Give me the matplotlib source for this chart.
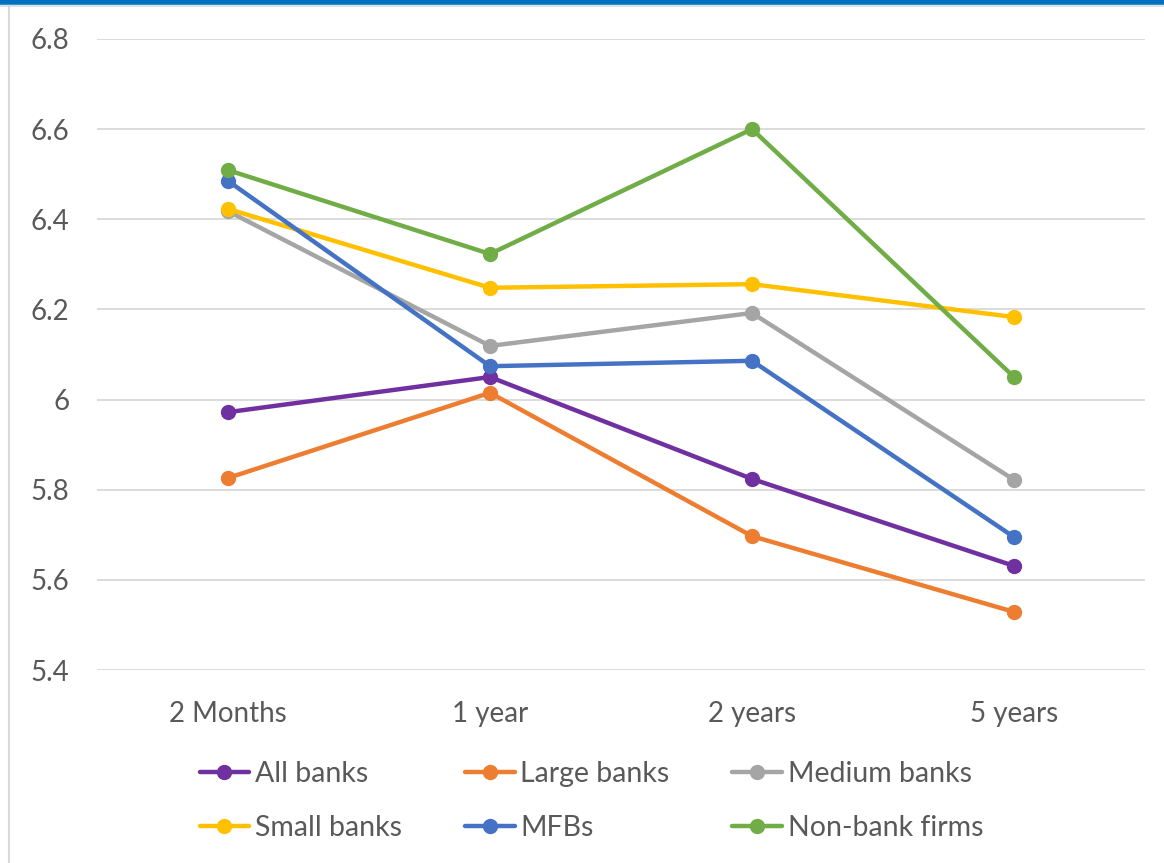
import matplotlib.pyplot as plt
from matplotlib.lines import Line2D

plt.rcParams['font.family'] = ['Lato', 'DejaVu Sans']

tenors = ["2 Months", "1 year", "2 years", "5 years"]
all_banks = [5.972, 6.050, 5.824, 5.631]
large_banks = [5.826, 6.015, 5.697, 5.529]
medium_banks = [6.418, 6.119, 6.192, 5.822]
small_banks = [6.423, 6.248, 6.256, 6.183]
mfbs = [6.485, 6.074, 6.086, 5.695]
non_bank = [6.509, 6.323, 6.600, 6.050]

series = [
    ("All banks", all_banks, "#7030A0"),
    ("Large banks", large_banks, "#ED7D31"),
    ("Medium banks", medium_banks, "#A5A5A5"),
    ("Small banks", small_banks, "#FFC000"),
    ("MFBs", mfbs, "#4472C4"),
    ("Non-bank firms", non_bank, "#70AD47"),
]

fig = plt.figure(figsize=(11.64, 8.63), dpi=100)
fig.patch.set_facecolor("white")

# blue band along the top and the frame line on the left
fig.add_artist(Line2D([0, 1], [0.9975, 0.9975], transform=fig.transFigure,
                      color="#0070C0", lw=4))
fig.add_artist(Line2D([0, 1], [0.9925, 0.9925], transform=fig.transFigure,
                      color="#D6DCE4", lw=1.2))
fig.add_artist(Line2D([0.0077, 0.0077], [0, 0.993], transform=fig.transFigure,
                      color="#D9D9D9", lw=1.5))

ax = fig.add_axes([0.0833, 0.2236, 0.9004, 0.7313])
x = range(len(tenors))
lines = []
for name, vals, col in series:
    ln, = ax.plot(x, vals, color=col, lw=3.2, marker="o", markersize=10,
                  label=name, solid_capstyle="round")
    lines.append(ln)

ax.set_xlim(-0.5, 3.5)
ax.set_ylim(5.4, 6.8)
ax.set_yticks([5.4, 5.6, 5.8, 6.0, 6.2, 6.4, 6.6, 6.8])
ax.set_yticklabels(["5.4", "5.6", "5.8", "6", "6.2", "6.4", "6.6", "6.8"])
ax.set_xticks(list(x))
ax.set_xticklabels(tenors)
ax.grid(axis="y", color="#D9D9D9", lw=1.3)
ax.set_axisbelow(True)
for s in ax.spines.values():
    s.set_visible(False)
ax.tick_params(length=0, labelsize=20, colors="#595959")
ax.tick_params(axis="y", pad=20)
ax.tick_params(axis="x", pad=22)

# legend fills column by column, so reorder to read across rows
order = [0, 3, 1, 4, 2, 5]
fig.legend([lines[i] for i in order], [series[i][0] for i in order],
           loc="center", bbox_to_anchor=(0.508, 0.072), ncol=3,
           frameon=False, fontsize=20.5, labelcolor="#595959",
           handlelength=1.75, handletextpad=0.2, columnspacing=2.2,
           labelspacing=1.0)

fig.savefig("out.png", dpi=100)
